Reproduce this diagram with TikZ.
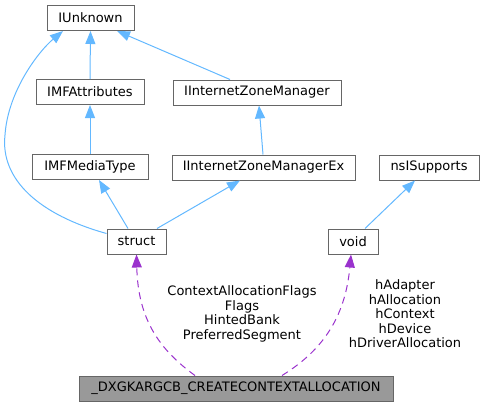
\documentclass[tikz,border=0pt]{standalone}
\usepackage{fontspec}
\setmainfont{DejaVu Sans}
\usetikzlibrary{arrows.meta}
\definecolor{edgeblue}{HTML}{63B8FF}
\definecolor{edgepurple}{HTML}{9A32CD}
\definecolor{boxborder}{HTML}{666666}
\definecolor{boxfill}{HTML}{999999}
\tikzset{
  cls/.style={draw=boxborder, line width=1pt, fill=white, rectangle, inner sep=0pt,
    minimum height=25pt, font=\fontsize{13}{14.5}\selectfont},
  mainbox/.style={cls, fill=boxfill},
  inh/.style={draw=edgeblue, line width=1pt, -{Triangle[length=13pt,width=10pt]}},
  use/.style={draw=edgepurple, line width=1pt, dash pattern=on 7pt off 5pt,
    -{Triangle[length=13pt,width=10pt]}},
  lbl/.style={align=center, inner sep=0pt, font=\fontsize{13}{14.5}\selectfont}
}
\begin{document}
\begin{tikzpicture}[x=1pt,y=-1pt]
\useasboundingbox (0,0) rectangle (484,407);
\node[cls, minimum width=87pt] (IUnknown) at (90.5,18) {IUnknown};
\node[cls, minimum width=108pt] (IMFAttributes) at (90,92) {IMFAttributes};
\node[cls, minimum width=116pt] (IMFMediaType) at (90,167) {IMFMediaType};
\node[cls, minimum width=168pt] (IIZM) at (257,92.5) {IInternetZoneManager};
\node[cls, minimum width=183pt] (IIZMEx) at (263.5,167.5) {IInternetZoneManagerEx};
\node[cls, minimum width=100pt] (nsISupports) at (429,167.5) {nsISupports};
\node[cls, minimum width=59pt] (struct) at (136.5,241.5) {struct};
\node[cls, minimum width=50pt] (void) at (353,241.5) {void};
\node[mainbox, minimum width=314pt] (main) at (236,388.5) {\_DXGKARGCB\_CREATECONTEXTALLOCATION};

\draw[inh] (IMFAttributes.north) -- (IUnknown.south);
\draw[inh] ([xshift=-27pt]IIZM.north) -- ([xshift=26.5pt]IUnknown.south);
\draw[inh] (IMFMediaType.north) -- (IMFAttributes.south);
\draw[inh] ([xshift=-0.5pt]IIZMEx.north) -- ([xshift=2pt]IIZM.south);
\draw[inh] ([xshift=-8.5pt]struct.north) -- ([xshift=9pt]IMFMediaType.south);
\draw[inh] ([xshift=20.5pt]struct.north) -- ([xshift=-23.5pt]IIZMEx.south);
\draw[inh] ([xshift=12pt]void.north) -- ([xshift=-14pt]nsISupports.south);
\draw[inh] ([yshift=8pt]struct.west) .. controls (40,215) and (0,180) .. (5,135)
  .. controls (8,90) and (40,50) .. ([xshift=-27.5pt]IUnknown.south);

\draw[use] ([xshift=-41pt]main.north) .. controls (160,350) and (138,320) .. (struct.south);
\draw[use] ([xshift=46pt]main.north) .. controls (320,352) and (345,320) .. ([xshift=-2pt]void.south);

\node[lbl] (lstruct) at (242,314) {ContextAllocationFlags\\Flags\\HintedBank\\PreferredSegment};
\node[lbl] (lvoid) at (405,314) {hAdapter\\hAllocation\\hContext\\hDevice\\hDriverAllocation};
\end{tikzpicture}
\end{document}
